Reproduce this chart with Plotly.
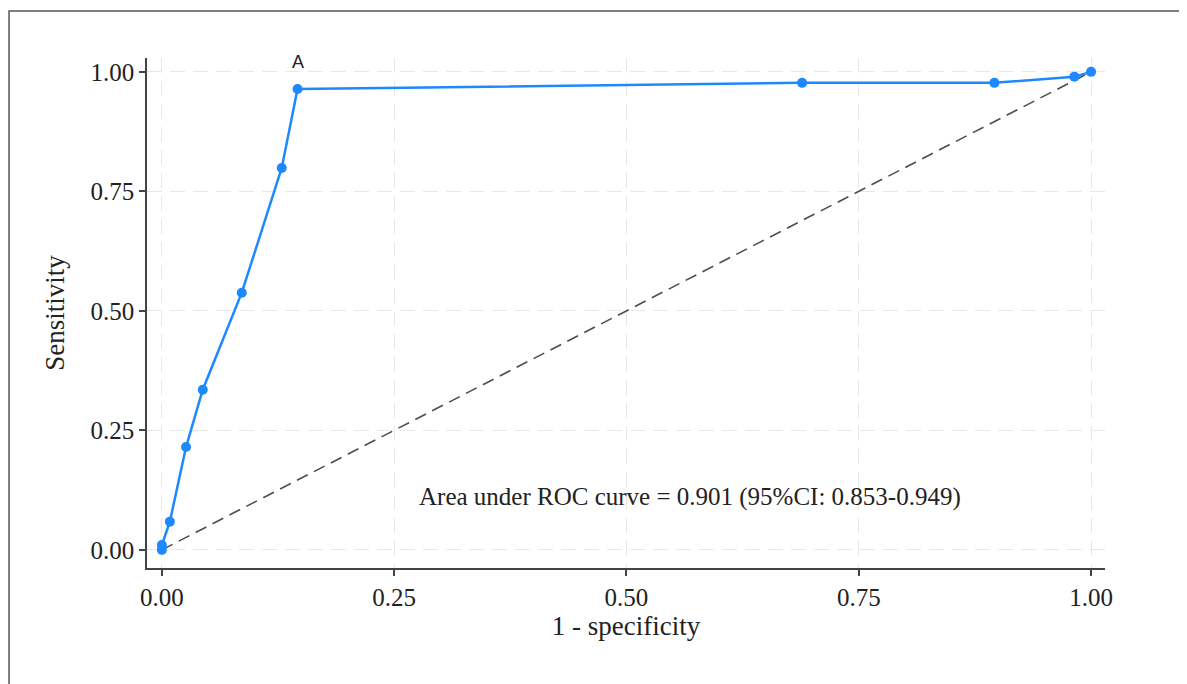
import plotly.graph_objects as go

fpr = [0.0, 0.0, 0.0086, 0.026, 0.044, 0.086, 0.129, 0.146, 0.689, 0.896, 0.982, 1.0]
tpr = [0.0, 0.010, 0.059, 0.215, 0.335, 0.538, 0.799, 0.964, 0.977, 0.977, 0.990, 1.0]
ref_x = [0.0, 1.0]
ref_y = [0.0, 1.0]
tick_vals = [0.0, 0.25, 0.5, 0.75, 1.0]
tick_text = ["0.00", "0.25", "0.50", "0.75", "1.00"]
label_point = 7
auc_text = "Area under ROC curve = 0.901 (95%CI: 0.853-0.949)"

serif = "Liberation Serif, Times New Roman, serif"

fig = go.Figure()
fig.add_trace(go.Scatter(x=ref_x, y=ref_y, mode="lines",
                         line=dict(color="#4d4d4d", width=1.6, dash="12px,7px"),
                         hoverinfo="skip", showlegend=False))
fig.add_trace(go.Scatter(x=fpr, y=tpr, mode="lines+markers",
                         line=dict(color="#1e88ff", width=2.5),
                         marker=dict(color="#1e88ff", size=10),
                         showlegend=False))

fig.add_annotation(x=fpr[label_point], y=tpr[label_point], text="A", showarrow=False,
                   yshift=27, font=dict(family="Liberation Sans, Arial, sans-serif", size=18, color="#222"))
fig.add_annotation(x=0.568, y=0.111, text=auc_text, showarrow=False,
                   font=dict(family=serif, size=25, color="#222"))

fig.add_shape(type="rect", xref="paper", yref="paper",
              x0=-0.144, x1=1.3, y0=-0.4, y1=1.092,
              line=dict(color="#555", width=1.5), layer="below")

axis_common = dict(
    tickvals=tick_vals, ticktext=tick_text, automargin=False,
    showgrid=True, gridcolor="#e8e8e8", griddash="15px,8px", gridwidth=1.3,
    zeroline=False, showline=True, linecolor="#444", linewidth=1.5,
    ticks="outside", ticklen=6, tickcolor="#444", tickwidth=1.5,
    tickfont=dict(family=serif, size=25, color="#222"),
    title_font=dict(family=serif, size=27, color="#222"),
)

fig.update_xaxes(range=[-0.016, 1.015], title_text="1 - specificity", title_standoff=4, **axis_common)
fig.update_yaxes(range=[-0.038, 1.029], title_text="Sensitivity", title_standoff=18, **axis_common)

fig.update_layout(
    width=1187, height=684,
    margin=dict(l=139, r=90, t=50, b=124),
    plot_bgcolor="white", paper_bgcolor="white",
)

fig.write_html("out.html")
